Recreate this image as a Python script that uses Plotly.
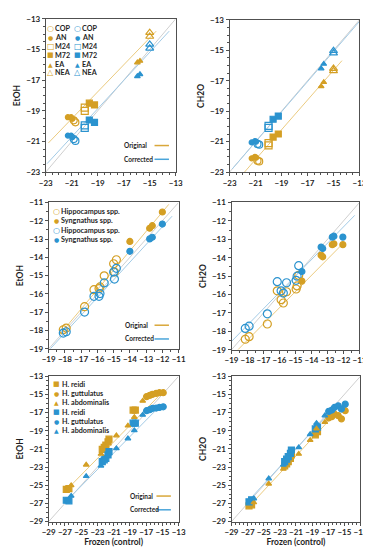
import plotly.graph_objects as go

W, H = 371, 550
ORANGE = '#D49F24'
BLUE = '#2B93CF'
ORANGE_LINE = '#EBCB80'
BLUE_LINE = '#A3CBE6'
GRAY_LINE = '#CFCFCF'
FONT = 'Lato'

# ---------------- Panel 1 / 2 (EtOH / CH2O, treatments) ----------------
treat_labels = ['COP', 'AN', 'M24', 'M72', 'EA', 'NEA']
p12_x = {
    'COP': [-20.85, -20.72],
    'AN': [-21.3, -21.05, -20.95],
    'M24': [-20.0, -20.0],
    'M72': [-19.65, -19.25],
    'EA': [-15.95, -15.75],
    'NEA': [-15.0, -15.0],
}
p1_orig = {
    'COP': [-19.62, -19.75],
    'AN': [-19.42, -19.42, -19.52],
    'M24': [-18.8, -19.0],
    'M72': [-18.5, -18.62],
    'EA': [-15.85, -15.75],
    'NEA': [-13.9, -14.15],
}
p1_corr = {
    'COP': [-20.85, -20.97],
    'AN': [-20.62, -20.62, -20.72],
    'M24': [-19.95, -20.12],
    'M72': [-19.6, -19.75],
    'EA': [-16.75, -16.62],
    'NEA': [-14.67, -14.92],
}
p2_orig = {
    'COP': [-22.25, -22.3],
    'AN': [-22.1, -22.0, -22.05],
    'M24': [-21.1, -21.25],
    'M72': [-20.7, -20.5],
    'EA': [-17.37, -17.1],
    'NEA': [-16.2, -16.35],
}
p2_corr = {
    'COP': [-21.15, -21.2],
    'AN': [-21.05, -20.97, -21.0],
    'M24': [-19.97, -20.1],
    'M72': [-19.53, -19.32],
    'EA': [-16.2, -15.9],
    'NEA': [-15.03, -15.18],
}
treat_style = {
    'COP': ('circle-open', 7),
    'AN': ('circle', 5),
    'M24': ('square-open', 7),
    'M72': ('square', 6),
    'EA': ('triangle-up', 5),
    'NEA': ('triangle-up-open', 7),
}
p1_fit_x_orig, p1_fit_y_orig = [-22.8, -14.5], [-21.1, -13.8]
p1_fit_x_corr, p1_fit_y_corr = [-22.9, -13.5], [-22.45, -13.8]
p2_fit_x_orig, p2_fit_y_orig = [-21.85, -14.35], [-23.0, -15.68]
p2_fit_x_corr, p2_fit_y_corr = [-22.8, -13.0], [-22.8, -13.1]

# ---------------- Panel 3 / 4 (genera) ----------------
genus_labels = ['Hippocampus spp.', 'Syngnathus spp.']
p3_x = {
    'Hippocampus spp.': [-18.1, -17.92, -16.79, -16.21, -15.9, -15.84, -15.58, -15.0, -14.83, -14.95],
    'Syngnathus spp.': [-14.0, -12.78, -12.62, -12.0],
}
p3_orig = {
    'Hippocampus spp.': [-17.96, -17.87, -16.7, -15.77, -15.71, -15.62, -15.01, -14.35, -14.13, -14.8],
    'Syngnathus spp.': [-13.13, -12.41, -12.27, -11.52],
}
p3_corr = {
    'Hippocampus spp.': [-18.14, -18.07, -16.99, -16.13, -16.13, -15.98, -15.4, -14.8, -14.6, -15.19],
    'Syngnathus spp.': [-13.67, -12.99, -12.9, -12.18],
}
p4_x = {
    'Hippocampus spp.': [-18.14, -17.9, -16.76, -16.14, -15.9, -15.76, -15.56, -14.96, -14.8, -14.9],
    'Syngnathus spp.': [-14.6, -13.4, -13.3, -12.7, -12.6, -12.04],
}
p4_orig = {
    'Hippocampus spp.': [-18.43, -18.29, -17.6, -15.8, -16.28, -16.46, -15.85, -15.7, -14.96, -15.53],
    'Syngnathus spp.': [-15.27, -13.86, -13.95, -13.29, -13.24, -13.29],
}
p4_corr = {
    'Hippocampus spp.': [-17.84, -17.72, -17.05, -15.3, -15.8, -15.92, -15.36, -15.23, -14.43, -15.0],
    'Syngnathus spp.': [-14.75, -13.42, -13.5, -12.88, -12.83, -12.88],
}
genus_style = {
    'Hippocampus spp.': ('circle-open', 8),
    'Syngnathus spp.': ('circle', 6),
}
p3_fit_x_orig, p3_fit_y_orig = [-18.3, -11.6], [-18.2, -11.1]
p3_fit_x_corr, p3_fit_y_corr = [-18.9, -11.4], [-19.0, -11.75]
p4_fit_x_orig, p4_fit_y_orig = [-18.6, -12.0], [-19.0, -13.2]
p4_fit_x_corr, p4_fit_y_corr = [-19.0, -11.3], [-18.55, -11.7]

# ---------------- Panel 5 / 6 (species) ----------------
species_labels = ['H. reidi', 'H. guttulatus', 'H. abdominalis']
p56_x = {
    'H. reidi': [-26.83, -26.51, -22.4, -22.16, -21.96, -21.69, -21.57, -18.6, -18.33],
    'H. guttulatus': [-16.94, -16.55, -16.23, -15.76, -15.36, -14.89],
    'H. abdominalis': [-26.23, -24.38, -22.56, -20.66, -19.24, -18.45, -17.42],
}
p5_orig = {
    'H. reidi': [-25.45, -25.38, -21.05, -20.83, -20.58, -20.22, -19.93, -16.72, -16.72],
    'H. guttulatus': [-15.24, -15.1, -14.99, -14.88, -14.81, -14.81],
    'H. abdominalis': [-25.02, -22.75, -21.56, -19.53, -18.45, -17.51, -15.71],
}
p5_corr = {
    'H. reidi': [-26.65, -26.72, -22.39, -22.2, -22.03, -21.66, -21.3, -18.16, -18.16],
    'H. guttulatus': [-16.79, -16.68, -16.54, -16.5, -16.43, -16.36],
    'H. abdominalis': [-26.18, -24.01, -22.86, -20.94, -19.86, -18.96, -17.26],
}
p6_orig = {
    'H. reidi': [-27.26, -27.15, -22.86, -22.64, -22.39, -22.03, -21.66, -19.45, -19.1],
    'H. guttulatus': [-17.58, -17.44, -17.15, -17.33, -17.69, -16.79],
    'H. abdominalis': [-26.9, -24.84, -23.2, -21.56, -20.04, -18.78, -18.05],
}
p6_corr = {
    'H. reidi': [-26.83, -26.61, -22.39, -22.13, -21.84, -21.48, -21.12, -18.8, -18.6],
    'H. guttulatus': [-16.86, -16.72, -16.43, -16.25, -16.61, -16.07],
    'H. abdominalis': [-26.47, -24.26, -22.75, -20.83, -19.39, -18.16, -17.33],
}
species_style = {
    'H. reidi': ('square', 6),
    'H. guttulatus': ('circle', 6),
    'H. abdominalis': ('triangle-up', 5),
}
p5_fit_x_orig, p5_fit_y_orig = [-26.9, -14.8], [-25.6, -14.6]
p5_fit_x_corr, p5_fit_y_corr = [-27.0, -15.2], [-26.9, -16.2]
p6_fit_x_orig, p6_fit_y_orig = [-27.0, -16.0], [-27.5, -17.0]
p6_fit_x_corr, p6_fit_y_corr = [-27.2, -15.8], [-27.0, -16.0]

# axis ranges
range_12 = [-23, -13]
range_34 = [-19, -11]
range_56 = [-29, -13]

# ---------------- layout helpers ----------------
def px(x):
    return x / W

def py(y):
    return 1 - y / H

panels = [
    # idx, x px domain, y px domain (top,bottom), range, dtick, ytitle, xtitle
    (1, (32, 167), (6, 162), range_12, 2, 'EtOH', None),
    (2, (223, 358), (7, 162), range_12, 2, 'CH2O', None),
    (3, (35, 170), (193, 342), range_34, 1, 'EtOH', None),
    (4, (225, 358), (193, 343), range_34, 1, 'CH2O', None),
    (5, (35, 170), (370, 518), range_56, 2, 'EtOH', 'Frozen (control)'),
    (6, (225, 359), (370, 518), range_56, 2, 'CH2O', 'Frozen (control)'),
]

fig = go.Figure()

def axname(i, a):
    return a if i == 1 else f'{a}{i}'

def add_line(i, xs, ys, color, width=1.0):
    fig.add_trace(go.Scatter(x=xs, y=ys, mode='lines', xaxis=axname(i, 'x'), yaxis=axname(i, 'y'),
                             line=dict(color=color, width=width), showlegend=False, hoverinfo='skip'))

def add_pts(i, xs, ys, symbol, size, color):
    fig.add_trace(go.Scatter(x=xs, y=ys, mode='markers', xaxis=axname(i, 'x'), yaxis=axname(i, 'y'),
                             marker=dict(symbol=symbol, size=size, color=color,
                                         line=dict(width=1.2, color=color)),
                             showlegend=False))

# 1:1 lines
for (i, _, _, rng, _, _, _) in panels:
    add_line(i, rng, rng, GRAY_LINE, 1.0)

# fit lines
fits = [
    (1, p1_fit_x_orig, p1_fit_y_orig, p1_fit_x_corr, p1_fit_y_corr),
    (2, p2_fit_x_orig, p2_fit_y_orig, p2_fit_x_corr, p2_fit_y_corr),
    (3, p3_fit_x_orig, p3_fit_y_orig, p3_fit_x_corr, p3_fit_y_corr),
    (4, p4_fit_x_orig, p4_fit_y_orig, p4_fit_x_corr, p4_fit_y_corr),
    (5, p5_fit_x_orig, p5_fit_y_orig, p5_fit_x_corr, p5_fit_y_corr),
    (6, p6_fit_x_orig, p6_fit_y_orig, p6_fit_x_corr, p6_fit_y_corr),
]
for (i, xo, yo, xc, yc) in fits:
    add_line(i, xo, yo, ORANGE_LINE, 1.0)
    add_line(i, xc, yc, BLUE_LINE, 1.0)

# points
for k in treat_labels:
    sym, sz = treat_style[k]
    add_pts(1, p12_x[k], p1_orig[k], sym, sz, ORANGE)
    add_pts(1, p12_x[k], p1_corr[k], sym, sz, BLUE)
    add_pts(2, p12_x[k], p2_orig[k], sym, sz, ORANGE)
    add_pts(2, p12_x[k], p2_corr[k], sym, sz, BLUE)
for k in genus_labels:
    sym, sz = genus_style[k]
    add_pts(3, p3_x[k], p3_orig[k], sym, sz, ORANGE)
    add_pts(3, p3_x[k], p3_corr[k], sym, sz, BLUE)
    add_pts(4, p4_x[k], p4_orig[k], sym, sz, ORANGE)
    add_pts(4, p4_x[k], p4_corr[k], sym, sz, BLUE)
for k in species_labels:
    sym, sz = species_style[k]
    add_pts(5, p56_x[k], p5_orig[k], sym, sz, ORANGE)
    add_pts(5, p56_x[k], p5_corr[k], sym, sz, BLUE)
    add_pts(6, p56_x[k], p6_orig[k], sym, sz, ORANGE)
    add_pts(6, p56_x[k], p6_corr[k], sym, sz, BLUE)

tickfont = dict(family=FONT, size=8, color='#1f1f1f', weight='bold')
titlefont = dict(family=FONT, size=8.5, color='#1f1f1f', weight='bold')
layout = dict(width=W, height=H, margin=dict(l=0, r=0, t=0, b=0),
              plot_bgcolor='white', paper_bgcolor='white', showlegend=False)
for (i, xd, yd, rng, dt, yt, xt) in panels:
    common = dict(range=rng, dtick=dt, tick0=rng[0], showgrid=False, zeroline=False,
                  showline=True, mirror=True, linecolor='#505050', linewidth=1,
                  ticks='outside', ticklen=3, tickcolor='#505050', tickwidth=1,
                  tickfont=tickfont, tickangle=0,
                  minor=dict(dtick=0.5, ticks='outside', ticklen=2, tickcolor='#505050', showgrid=False))
    xa = dict(common, domain=[px(xd[0]), px(xd[1])], anchor=axname(i, 'y'))
    ya = dict(common, domain=[py(yd[1]), py(yd[0])], anchor=axname(i, 'x'))
    ya['title'] = dict(text=yt, font=titlefont, standoff=4)
    if xt:
        xa['title'] = dict(text=xt, font=titlefont, standoff=1)
    layout['xaxis' if i == 1 else f'xaxis{i}'] = xa
    layout['yaxis' if i == 1 else f'yaxis{i}'] = ya
fig.update_layout(**layout)

# ---------------- legends (annotations + shapes) ----------------
glyph = {
    'circle-open': ('○', 8), 'circle': ('●', 6), 'square-open': ('□', 8), 'square': ('■', 7),
    'triangle-up': ('▲', 6), 'triangle-up-open': ('△', 8),
}
legfont = dict(family=FONT, size=7.2, color='#1f1f1f', weight='bold')

def leg_item(xs, xt, y, label, symbol, color):
    g, gs = glyph[symbol]
    fig.add_annotation(x=px(xs), y=py(y), xref='paper', yref='paper', text=g, showarrow=False,
                       font=dict(family='DejaVu Sans', size=gs, color=color), xanchor='center', yanchor='middle')
    fig.add_annotation(x=px(xt), y=py(y), xref='paper', yref='paper', text=label, showarrow=False,
                       font=legfont, xanchor='left', yanchor='middle')

rows1 = [16, 25, 34, 43, 52, 61]
for r, k in zip(rows1, treat_labels):
    leg_item(37, 39.5, r, k, treat_style[k][0], ORANGE)
    leg_item(65, 67.5, r, k, treat_style[k][0], BLUE)

rows3 = [202, 211.5, 221.5, 231]
items3 = [(k, ORANGE) for k in genus_labels] + [(k, BLUE) for k in genus_labels]
for r, (k, c) in zip(rows3, items3):
    leg_item(43, 46, r, k, genus_style[k][0], c)

rows5 = [378, 387.5, 397, 406.5, 416, 425.5]
items5 = [(k, ORANGE) for k in species_labels] + [(k, BLUE) for k in species_labels]
for r, (k, c) in zip(rows5, items5):
    leg_item(43, 47, r, k, species_style[k][0], c)

smallfont = dict(family=FONT, size=6.5, color='#1f1f1f', weight='bold')
for (xl, y1, y2, lx0, lx1) in [(111, 135, 149, 145, 160), (112, 318, 332, 145, 160), (117, 492, 506, 147, 162)]:
    fig.add_annotation(x=px(xl), y=py(y1), xref='paper', yref='paper', text='Original', showarrow=False,
                       font=smallfont, xanchor='left', yanchor='middle')
    fig.add_annotation(x=px(xl), y=py(y2), xref='paper', yref='paper', text='Corrected', showarrow=False,
                       font=smallfont, xanchor='left', yanchor='middle')
    fig.add_shape(type='line', xref='paper', yref='paper', x0=px(lx0), x1=px(lx1), y0=py(y1), y1=py(y1),
                  line=dict(color='#D9A73A', width=1.5))
    fig.add_shape(type='line', xref='paper', yref='paper', x0=px(lx0), x1=px(lx1), y0=py(y2), y1=py(y2),
                  line=dict(color='#4AA5DA', width=1.5))

fig.write_html('out.html')
